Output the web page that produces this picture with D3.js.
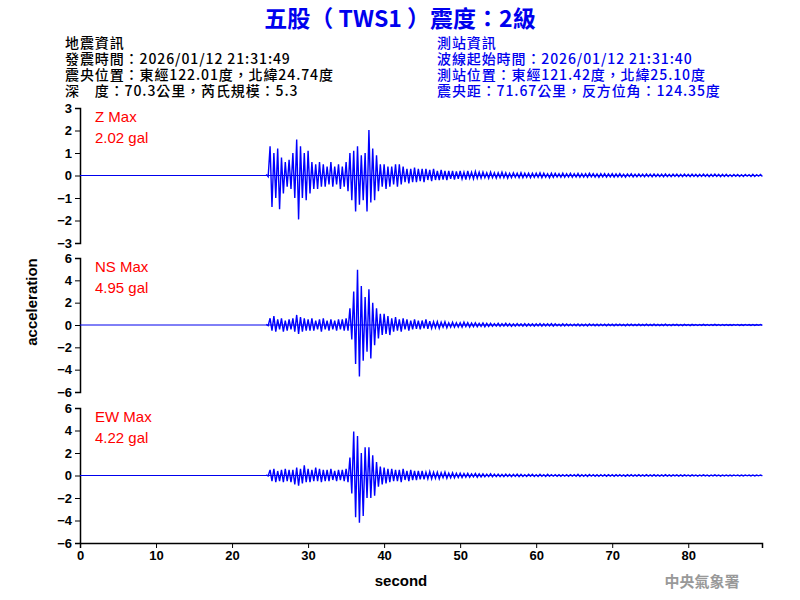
<!DOCTYPE html>
<html><head><meta charset="utf-8">
<script src="https://cdn.jsdelivr.net/npm/d3@7"></script>
<style>
body{margin:0;background:#fff}
svg text{font-family:"Liberation Sans",Arial,sans-serif}
.cjk{font-family:"Noto Sans CJK TC","Liberation Sans",sans-serif}
</style></head><body>
<div id="chart"></div>
<script>
// envelope of each trace, one bin every 0.5 s starting at T0
const T0 = 24.5;
const tailUp = [0.08,0.1,0.08,0.08,0.1,0.08,0.07,0.08,0.08,0.07, 0.08,0.07,0.08,0.06,0.07,0.08,0.06,0.07,0.06,0.07,
  0.06,0.07,0.06,0.06,0.07,0.05,0.06,0.06,0.05,0.06, 0.05,0.06,0.05,0.05,0.06,0.05,0.05,0.06,0.05,0.05,
  0.05,0.04,0.05,0.05,0.04,0.05,0.04,0.05,0.04,0.05];
const tailLo = [-0.07,-0.08,-0.07,-0.08,-0.06,-0.07,-0.08,-0.06,-0.07,-0.06, -0.07,-0.06,-0.06,-0.07,-0.05,-0.06,-0.06,-0.05,-0.06,-0.05,
  -0.06,-0.05,-0.05,-0.06,-0.05,-0.05,-0.04,-0.05,-0.05,-0.04, -0.05,-0.04,-0.05,-0.04,-0.04,-0.05,-0.04,-0.04,-0.05,-0.04,
  -0.04,-0.04,-0.03,-0.04,-0.04,-0.03,-0.04,-0.04,-0.03,-0.04];

const zUp = [0.05,1.3,1.0,1.2,0.8,0.6,0.7,1.0,1.6,1.3,1.0,
  1.1,0.6,0.5,0.6,0.5,0.4,0.6,0.4,0.5,0.4,
  0.6,1.0,1.1,1.3,0.9,1.0,2.02,1.2,0.9,0.5,
  0.5,0.4,0.4,0.5,0.5,0.4,0.3,0.3,0.35,0.3,
  0.3,0.3,0.25,0.3,0.2,0.25,0.2,0.2,0.2,0.18,
  0.2,0.15,0.2,0.15,0.18,0.15,0.15,0.12,0.15,0.12,
  0.12,0.15,0.12,0.1,0.12,0.1,0.12,0.1,0.1,0.1,
  0.1,0.12,0.1,0.08,0.1,0.1,0.08,0.1,0.08,0.1, ...tailUp];
const zLo = [-0.05,-1.4,-1.0,-1.5,-0.8,-0.5,-0.6,-1.0,-1.95,-1.0,-1.1,
  -0.8,-0.6,-0.6,-0.5,-0.5,-0.4,-0.5,-0.4,-0.6,-0.5,
  -0.7,-1.1,-1.6,-1.3,-1.1,-1.6,-1.2,-1.1,-0.7,-0.5,
  -0.6,-0.5,-0.4,-0.5,-0.4,-0.3,-0.35,-0.3,-0.3,-0.25,
  -0.3,-0.2,-0.25,-0.2,-0.2,-0.18,-0.2,-0.15,-0.18,-0.15,
  -0.15,-0.18,-0.12,-0.15,-0.12,-0.12,-0.1,-0.12,-0.1,-0.12,
  -0.1,-0.1,-0.12,-0.1,-0.08,-0.1,-0.1,-0.08,-0.1,-0.08,
  -0.08,-0.1,-0.08,-0.1,-0.08,-0.07,-0.08,-0.08,-0.07,-0.08, ...tailLo];

const nsUp = [0.05,0.6,0.8,0.5,0.6,0.4,0.5,0.6,0.9,0.7,0.6,
  0.5,0.6,0.4,0.5,0.6,0.4,0.5,0.4,0.5,0.5,
  0.6,1.5,3.0,4.95,3.5,2.5,3.2,2.0,1.5,1.0,
  1.0,0.8,0.6,0.7,0.5,0.6,0.5,0.4,0.5,0.4,
  0.4,0.5,0.35,0.3,0.3,0.25,0.3,0.2,0.25,0.2,
  0.2,0.25,0.2,0.18,0.2,0.15,0.18,0.15,0.15,0.12,
  0.15,0.12,0.15,0.12,0.1,0.12,0.1,0.12,0.1,0.1,
  0.1,0.12,0.1,0.1,0.12,0.1,0.08,0.1,0.1,0.08, ...tailUp];
const nsLo = [-0.05,-0.5,-0.6,-0.4,-0.6,-0.5,-0.4,-0.6,-0.8,-0.6,-0.5,
  -0.5,-0.5,-0.4,-0.6,-0.4,-0.5,-0.4,-0.5,-0.4,-0.5,
  -0.5,-1.3,-3.5,-4.6,-3.2,-2.4,-3.0,-1.8,-1.2,-0.9,
  -0.8,-0.9,-0.6,-0.5,-0.6,-0.4,-0.5,-0.4,-0.35,-0.4,
  -0.3,-0.35,-0.3,-0.25,-0.3,-0.2,-0.25,-0.2,-0.2,-0.18,
  -0.2,-0.15,-0.18,-0.15,-0.15,-0.12,-0.15,-0.12,-0.12,-0.1,
  -0.12,-0.1,-0.1,-0.12,-0.1,-0.08,-0.1,-0.1,-0.08,-0.1,
  -0.08,-0.1,-0.08,-0.08,-0.1,-0.07,-0.08,-0.08,-0.07,-0.08, ...tailLo];

const ewUp = [0.05,0.5,0.6,0.4,0.5,0.6,0.5,0.5,0.7,0.6,0.9,
  0.6,0.5,0.7,0.6,0.5,0.5,0.6,0.4,0.5,0.5,
  0.6,1.6,3.9,3.5,2.0,2.5,2.5,1.8,1.2,0.8,
  0.7,0.6,0.6,0.5,0.5,0.6,0.4,0.5,0.4,0.4,
  0.4,0.3,0.35,0.3,0.3,0.25,0.3,0.2,0.25,0.2,
  0.2,0.18,0.2,0.15,0.18,0.15,0.15,0.12,0.15,0.12,
  0.12,0.1,0.12,0.1,0.1,0.12,0.1,0.08,0.1,0.1,
  0.08,0.1,0.08,0.1,0.08,0.08,0.07,0.08,0.08,0.07, ...tailUp];
const ewLo = [-0.05,-0.5,-0.6,-0.5,-0.6,-0.5,-0.6,-0.8,-0.9,-0.7,-0.6,
  -0.6,-0.5,-0.5,-0.6,-0.5,-0.5,-0.4,-0.5,-0.4,-0.5,
  -0.6,-1.6,-3.7,-4.2,-3.6,-2.0,-2.0,-1.8,-1.0,-0.8,
  -0.7,-0.6,-0.5,-0.5,-0.6,-0.4,-0.5,-0.4,-0.4,-0.35,
  -0.35,-0.3,-0.3,-0.25,-0.3,-0.2,-0.25,-0.2,-0.2,-0.18,
  -0.18,-0.15,-0.15,-0.12,-0.15,-0.12,-0.12,-0.1,-0.12,-0.1,
  -0.1,-0.1,-0.08,-0.1,-0.08,-0.1,-0.08,-0.08,-0.07,-0.08,
  -0.08,-0.07,-0.08,-0.07,-0.06,-0.07,-0.07,-0.06,-0.07,-0.06, ...tailLo];

const panels = [
  { name: 'Z',  max: '2.02 gal', up: zUp,  lo: zLo,  lim: 3, ticks: [-3,-2,-1,0,1,2,3], top: 108, bottom: 243 },
  { name: 'NS', max: '4.95 gal', up: nsUp, lo: nsLo, lim: 6, ticks: [-6,-4,-2,0,2,4,6], top: 258, bottom: 392 },
  { name: 'EW', max: '4.22 gal', up: ewUp, lo: ewLo, lim: 6, ticks: [-6,-4,-2,0,2,4,6], top: 408, bottom: 543 },
];
const xTicks = [0,10,20,30,40,50,60,70,80];

const leftInfo = ['地震資訊', '發震時間：2026/01/12 21:31:49', '震央位置：東經122.01度，北緯24.74度', '深　度：70.3公里，芮氏規模：5.3'];
const rightInfo = ['測站資訊', '波線起始時間：2026/01/12 21:31:40', '測站位置：東經121.42度，北緯25.10度', '震央距：71.67公里，反方位角：124.35度'];

const svg = d3.select('#chart').append('svg').attr('width', 800).attr('height', 600);
const x = d3.scaleLinear().domain([0, 89.7]).range([80, 762]);

svg.append('text').attr('class', 'cjk').attr('x', 400).attr('y', 27).attr('text-anchor', 'middle')
  .attr('fill', '#0000ee').attr('font-size', 23).attr('font-weight', 'bold').text('五股（ TWS1 ）震度：2級');

leftInfo.forEach((t, i) => svg.append('text').attr('class', 'cjk').attr('x', 65).attr('y', 48 + i * 16)
  .attr('font-size', 14).attr('letter-spacing', 0.9).attr('font-weight', 500).attr('fill', '#000').text(t));
rightInfo.forEach((t, i) => svg.append('text').attr('class', 'cjk').attr('x', 437).attr('y', 48 + i * 16)
  .attr('font-size', 14).attr('letter-spacing', 0.9).attr('font-weight', 500).attr('fill', '#0000ee').text(t));

panels.forEach((p, k) => {
  const y = d3.scaleLinear().domain([-p.lim, p.lim]).range([p.bottom, p.top]);
  const g = svg.append('g');
  g.append('g').attr('transform', 'translate(80,0)')
    .call(d3.axisLeft(y).tickValues(p.ticks).tickSize(5).tickFormat(d3.format('d')))
    .call(a => a.selectAll('text').attr('font-size', 13).attr('font-weight', 'bold').attr('fill', '#000')
      .style('font-family', '"Liberation Sans", Arial'))
    .call(a => a.select('.domain').attr('stroke-width', 1.5));
  g.append('line').attr('x1', x(0)).attr('x2', x(89.7)).attr('y1', y(0)).attr('y2', y(0))
    .attr('stroke', '#0000ee').attr('stroke-width', 1);
  // zigzag through the envelope: upper at bin start, lower a quarter second later
  const pts = [];
  p.up.forEach((v, i) => {
    const t = T0 + i * 0.5;
    pts.push([t, v], [t + 0.25, p.lo[i]]);
  });
  g.append('path').attr('d', d3.line().x(d => x(d[0])).y(d => y(d[1]))(pts))
    .attr('fill', 'none').attr('stroke', '#0000ff').attr('stroke-width', 1.4);
  g.append('text').attr('x', 95).attr('y', p.top + 14).attr('fill', '#ff0000').attr('font-size', 15).text(p.name + ' Max');
  g.append('text').attr('x', 95).attr('y', p.top + 35).attr('fill', '#ff0000').attr('font-size', 15).text(p.max);
  if (k === panels.length - 1) {
    svg.append('g').attr('transform', `translate(0,${p.bottom})`)
      .call(d3.axisBottom(x).tickValues(xTicks).tickSize(5).tickFormat(d3.format('d')))
      .call(a => a.selectAll('text').attr('font-size', 13).attr('font-weight', 'bold').attr('fill', '#000')
        .style('font-family', '"Liberation Sans", Arial'))
      .call(a => a.select('.domain').attr('stroke-width', 1.5));
  }
});

svg.append('text').attr('transform', 'translate(37,302) rotate(-90)').attr('text-anchor', 'middle')
  .attr('font-size', 15).attr('font-weight', 'bold').text('acceleration');
svg.append('text').attr('x', 401).attr('y', 586).attr('text-anchor', 'middle')
  .attr('font-size', 15).attr('font-weight', 'bold').text('second');
svg.append('text').attr('class', 'cjk').attr('x', 702).attr('y', 587).attr('text-anchor', 'middle')
  .attr('font-size', 15).attr('font-weight', 'bold').attr('fill', '#999').text('中央氣象署');
</script></body></html>
